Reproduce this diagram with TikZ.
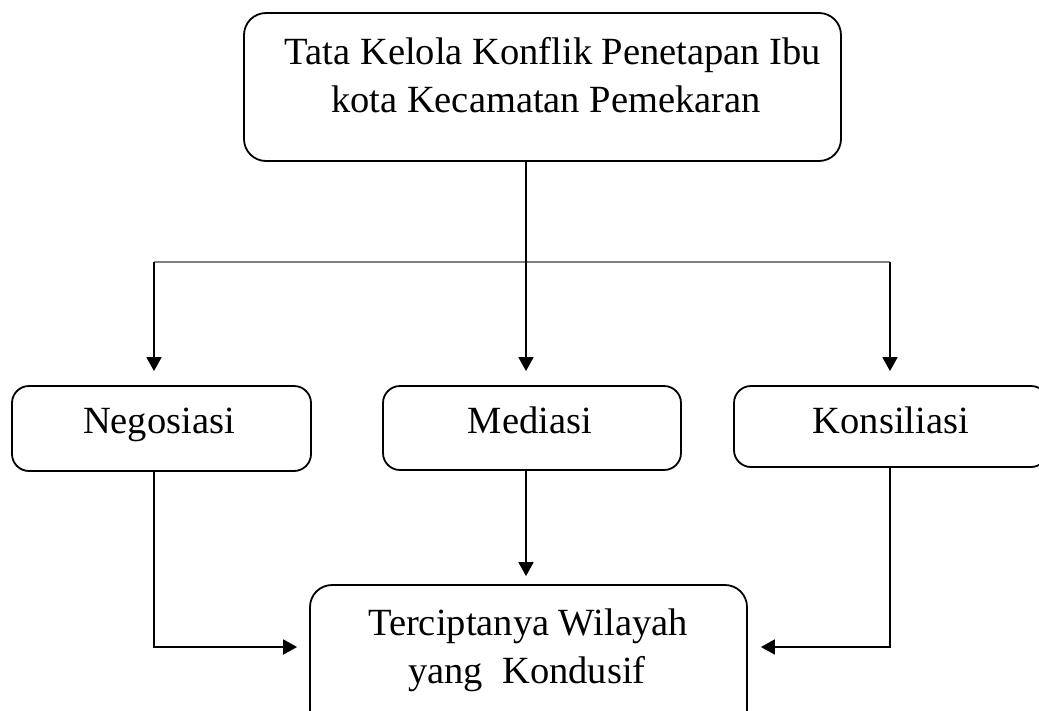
\documentclass[tikz,border=0pt]{standalone}
\usepackage{fontspec}
\setmainfont{Liberation Serif}
\usetikzlibrary{arrows.meta}
\begin{document}
\begin{tikzpicture}[x=1pt,y=-1pt,
  box/.style={draw=black, line width=1.8pt, rounded corners=17pt, inner sep=0pt},
  bigbox/.style={box, rounded corners=22pt},
  txt/.style={font=\fontsize{38.5}{48}\selectfont, inner sep=0pt, anchor=base},
  arr/.style={line width=1.8pt, -{Triangle[width=15pt,length=14pt]}},
  branch/.style={line width=1.4pt, draw=black!50}]
\path[use as bounding box, clip] (0,0) rectangle (1039,710);
\fill[white] (0,0) rectangle (1039,710);

% boxes
\node[bigbox, minimum width=597pt, minimum height=148pt] (top) at (542.5,87) {};
\node[box, minimum width=299pt, minimum height=85pt] (neg) at (161.5,428.5) {};
\node[box, minimum width=298pt, minimum height=84pt] (med) at (532,428) {};
\node[box, minimum width=314pt, minimum height=81pt] (kon) at (891,426.5) {};
\node[bigbox, minimum width=437pt, minimum height=147pt] (bot) at (528.5,658.5) {};

% texts
\node[txt] (topA) at (553,64) {Tata Kelola Konflik Penetapan Ibu};
\node[txt] (topB) at (546,112) {kota Kecamatan Pemekaran};
\node[txt] (negT) at (159,433) {Negosiasi};
\node[txt] (medT) at (530,433) {Mediasi};
\node[txt] (konT) at (891,433) {Konsiliasi};
\node[txt] (botA) at (528,635) {Terciptanya Wilayah};
\node[txt] (botB) at (527,683) {yang~~Kondusif};

% junctions
\coordinate (jm) at (526,262);
\coordinate (jl) at (154,262);
\coordinate (jr) at (890,262);

% connectors
\draw[branch] (jl) -- (jr);
\draw[arr, shorten >=14pt] (top.south -| jm) -- (med.north -| jm);
\draw[arr, shorten >=14pt] (jl) -- (neg.north -| jl);
\draw[arr, shorten >=14pt] (jr) -- (kon.north -| jr);
\draw[arr, shorten >=8pt] (med.south -| jm) -- (bot.north -| jm);
\draw[arr, shorten >=12pt] (neg.south -| jl) |- ([yshift=11.5pt]bot.west);
\draw[arr, shorten >=13pt] (kon.south -| jr) |- ([yshift=11.5pt]bot.east);
\end{tikzpicture}
\end{document}
